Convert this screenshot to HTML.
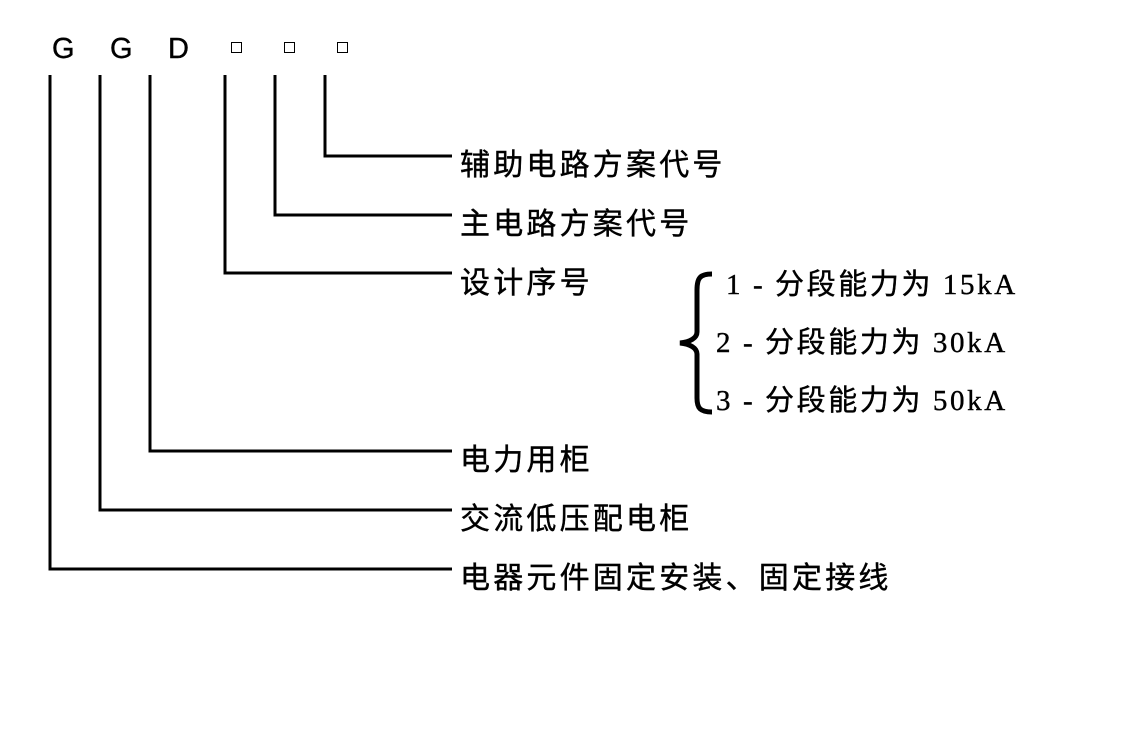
<!DOCTYPE html>
<html><head><meta charset="utf-8"><style>
body{margin:0;background:#fff;width:1139px;height:733px;position:relative;overflow:hidden}
.t{position:absolute;font-family:"Liberation Sans","Noto Sans CJK SC",sans-serif;font-size:30px;line-height:30px;color:#000;white-space:nowrap;letter-spacing:3.2px;-webkit-text-stroke:0.4px #000}
.s{font-family:"Liberation Serif","Noto Sans CJK SC",serif;font-size:29px;letter-spacing:2.6px}
.b{position:absolute;width:11px;height:11px;border:1.5px solid #000;box-sizing:border-box}
</style></head><body>
<div class="t" style="left:52px;top:34px;font-size:29px;letter-spacing:0">G</div>
<div class="t" style="left:110px;top:34px;font-size:29px;letter-spacing:0">G</div>
<div class="t" style="left:168px;top:34px;font-size:29px;letter-spacing:0">D</div>
<div class="b" style="left:231px;top:42px"></div>
<div class="b" style="left:284px;top:42px"></div>
<div class="b" style="left:337px;top:42px"></div>
<svg width="1139" height="733" style="position:absolute;left:0;top:0" fill="none" stroke="#000" stroke-width="3">
<path d="M325 75V156H452M275 75V215H452M225 75V273H452M150 75V451H452M100 75V510H452M50 75V569H452"/>
<path d="M712 274C700 274 697 278 697 290V332C697 338 690 342 680 343C690 344 697 348 697 354V398C697 408 700 412 712 412" stroke-width="5"/>
</svg>
<div class="t" style="left:460px;top:151px">辅助电路方案代号</div>
<div class="t" style="left:460px;top:210px">主电路方案代号</div>
<div class="t" style="left:460px;top:269px">设计序号</div>
<div class="t" style="left:460px;top:446px">电力用柜</div>
<div class="t" style="left:460px;top:505px">交流低压配电柜</div>
<div class="t" style="left:460px;top:564px">电器元件固定安装、固定接线</div>
<div class="t s" style="left:726px;top:270px">1 - 分段能力为 15kA</div>
<div class="t s" style="left:716px;top:328px">2 - 分段能力为 30kA</div>
<div class="t s" style="left:716px;top:386px">3 - 分段能力为 50kA</div>
</body></html>
